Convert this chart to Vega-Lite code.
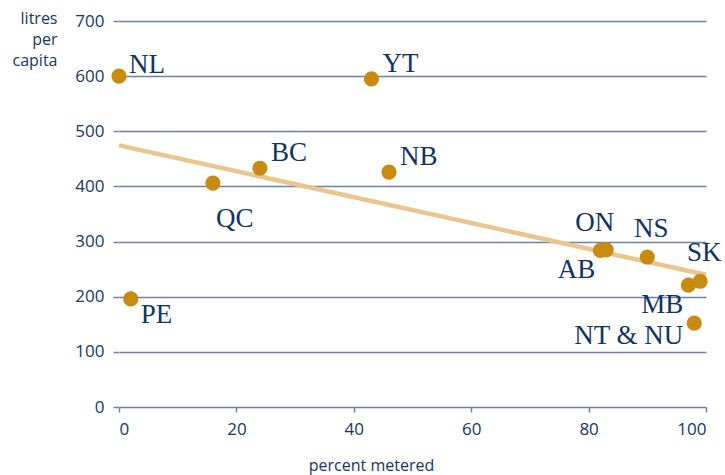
{
  "$schema": "https://vega.github.io/schema/vega-lite/v6.json",
  "width": 587,
  "height": 386,
  "autosize": {"type": "none"},
  "padding": {"left": 119, "top": 21, "right": 19, "bottom": 68},
  "background": "white",
  "config": {
    "view": {"stroke": null},
    "axis": {
      "labelFont": "Open Sans",
      "titleFont": "Open Sans",
      "labelColor": "#143767",
      "titleColor": "#143767",
      "labelFontSize": 17,
      "titleFontSize": 16,
      "titleFontWeight": "normal",
      "gridColor": "#6d81ac",
      "tickColor": "#6d81ac",
      "gridWidth": 1.5,
      "tickWidth": 1.5,
      "domain": false
    }
  },
  "data": {
    "values": [
      {"prov": "NL", "metered": 0, "litres": 600},
      {"prov": "PE", "metered": 2, "litres": 196},
      {"prov": "QC", "metered": 16, "litres": 406},
      {"prov": "BC", "metered": 24, "litres": 433},
      {"prov": "YT", "metered": 43, "litres": 595},
      {"prov": "NB", "metered": 46, "litres": 426},
      {"prov": "AB", "metered": 82, "litres": 284},
      {"prov": "ON", "metered": 83, "litres": 285},
      {"prov": "NS", "metered": 90, "litres": 272},
      {"prov": "MB", "metered": 97, "litres": 221},
      {"prov": "SK", "metered": 99, "litres": 228},
      {"prov": "NT & NU", "metered": 98, "litres": 152}
    ]
  },
  "encoding": {
    "x": {
      "field": "metered", "type": "quantitative",
      "scale": {"domain": [0, 100], "nice": false},
      "axis": {
        "values": [0, 20, 40, 60, 80, 100],
        "grid": false,
        "tickSize": 5,
        "labelPadding": 9,
        "title": "percent metered",
        "titleX": 252,
        "titleY": 63,
        "titleBaseline": "alphabetic",
        "titleAlign": "center",
        "titleAnchor": null
      }
    },
    "y": {
      "field": "litres", "type": "quantitative",
      "scale": {"domain": [0, 700], "nice": false},
      "axis": {
        "values": [0, 100, 200, 300, 400, 500, 600, 700],
        "grid": true,
        "tickSize": 6,
        "labelPadding": 9,
        "title": ["litres", "per", "capita"],
        "titleAngle": 0,
        "titleAlign": "right",
        "titleBaseline": "top",
        "titleX": -62,
        "titleY": -11,
        "titleLineHeight": 21,
        "titleFontSize": 16,
        "titleAnchor": null
      }
    }
  },
  "layer": [
    {
      "transform": [{"regression": "litres", "on": "metered", "extent": [0, 100]}],
      "mark": {"type": "line", "color": "#eac68c", "strokeWidth": 4.5}
    },
    {
      "mark": {"type": "circle", "color": "#c98a10", "opacity": 1, "size": 230}
    },
    {
      "transform": [{"filter": {"field": "prov", "oneOf": ["NL"]}}],
      "mark": {"type": "text", "align": "left", "baseline": "alphabetic", "dx": 10, "dy": -3, "font": "Liberation Serif", "fontSize": 27, "color": "#0f3466"},
      "encoding": {"text": {"field": "prov"}}
    },
    {
      "transform": [{"filter": {"field": "prov", "oneOf": ["YT", "BC", "NB"]}}],
      "mark": {"type": "text", "align": "left", "baseline": "alphabetic", "dx": 11, "dy": -7, "font": "Liberation Serif", "fontSize": 27, "color": "#0f3466"},
      "encoding": {"text": {"field": "prov"}}
    },
    {
      "transform": [{"filter": {"field": "prov", "oneOf": ["PE"]}}],
      "mark": {"type": "text", "align": "left", "baseline": "alphabetic", "dx": 10, "dy": 24, "font": "Liberation Serif", "fontSize": 27, "color": "#0f3466"},
      "encoding": {"text": {"field": "prov"}}
    },
    {
      "transform": [{"filter": {"field": "prov", "oneOf": ["QC"]}}],
      "mark": {"type": "text", "align": "left", "baseline": "alphabetic", "dx": 3, "dy": 44, "font": "Liberation Serif", "fontSize": 27, "color": "#0f3466"},
      "encoding": {"text": {"field": "prov"}}
    },
    {
      "transform": [{"filter": {"field": "prov", "oneOf": ["ON"]}}],
      "mark": {"type": "text", "align": "right", "baseline": "alphabetic", "dx": 8, "dy": -19, "font": "Liberation Serif", "fontSize": 27, "color": "#0f3466"},
      "encoding": {"text": {"field": "prov"}}
    },
    {
      "transform": [{"filter": {"field": "prov", "oneOf": ["NS", "SK"]}}],
      "mark": {"type": "text", "align": "center", "baseline": "alphabetic", "dx": 4, "dy": -20, "font": "Liberation Serif", "fontSize": 27, "color": "#0f3466"},
      "encoding": {"text": {"field": "prov"}}
    },
    {
      "transform": [{"filter": {"field": "prov", "oneOf": ["AB", "MB"]}}],
      "mark": {"type": "text", "align": "right", "baseline": "alphabetic", "dx": -5, "dy": 28, "font": "Liberation Serif", "fontSize": 27, "color": "#0f3466"},
      "encoding": {"text": {"field": "prov"}}
    },
    {
      "transform": [{"filter": {"field": "prov", "oneOf": ["NT & NU"]}}],
      "mark": {"type": "text", "align": "right", "baseline": "alphabetic", "dx": -11, "dy": 21, "font": "Liberation Serif", "fontSize": 27, "color": "#0f3466"},
      "encoding": {"text": {"field": "prov"}}
    }
  ]
}
